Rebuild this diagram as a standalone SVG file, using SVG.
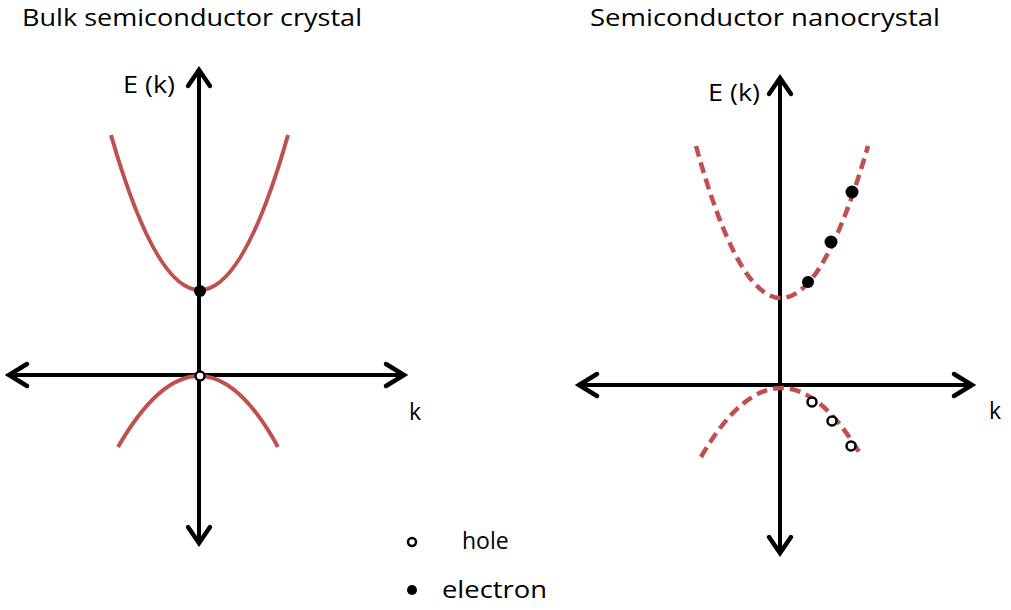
<svg xmlns="http://www.w3.org/2000/svg" width="1011" height="610" viewBox="0 0 1011 610">
<style>
.t{font-family:"Open Sans","Noto Sans",sans-serif;fill:#000}
.ax{stroke:#000;stroke-width:4;fill:none}
.ah{stroke:#000;stroke-width:4.5;fill:none;stroke-linecap:round;stroke-linejoin:miter}
.band{stroke:#c0504d;stroke-width:4;fill:none}
.dash{stroke:#c0504d;stroke-width:4.5;fill:none;stroke-dasharray:11 6}
.el{fill:#000}
.ho{fill:#fff;stroke:#000;stroke-width:2.5}
</style>
<rect width="1011" height="610" fill="#fff"/>
<g id="title-bulk"><text class="t" x="22" y="26" font-size="23" textLength="340" lengthAdjust="spacingAndGlyphs">Bulk semiconductor crystal</text></g>
<g id="title-nano"><text class="t" x="590" y="26" font-size="23" textLength="350" lengthAdjust="spacingAndGlyphs">Semiconductor nanocrystal</text></g>
<g id="connectors">
<g id="bulk-axes">
<line class="ax" x1="199" y1="72" x2="199" y2="541"/>
<polyline class="ah" points="188,86 199,70 210,86"/>
<polyline class="ah" points="188,527 199,543 210,527"/>
<line class="ax" x1="10" y1="375" x2="403" y2="375"/>
<polyline class="ah" points="27,364 9,375 27,386"/>
<polyline class="ah" points="386,364 404,375 386,386"/>
</g>
<g id="nano-axes">
<line class="ax" x1="780" y1="80" x2="780" y2="551"/>
<polyline class="ah" points="769,94 780,78 791,94"/>
<polyline class="ah" points="769,537 780,553 791,537"/>
<line class="ax" x1="580" y1="385" x2="971" y2="385"/>
<polyline class="ah" points="597,374 579,385 597,396"/>
<polyline class="ah" points="954,374 972,385 954,396"/>
</g>
</g>
<g id="bulk-bands">
<path class="band" d="M111,135 Q200,445 288,135"/>
<path class="band" d="M118,447 Q200,305 278,447"/>
</g>
<g id="nano-bands">
<path class="dash" d="M696,146 Q780,450 868,146"/>
<path class="dash" d="M701,457 Q781,319 862,457"/>
</g>
<g id="bulk-carriers">
<circle class="el" cx="200" cy="291" r="6"/>
<circle class="ho" cx="200" cy="376" r="4.5"/>
</g>
<g id="nano-carriers">
<circle class="el" cx="852" cy="192" r="6.5"/>
<circle class="el" cx="831" cy="242" r="6.5"/>
<circle class="el" cx="808" cy="282" r="6"/>
<circle class="ho" cx="812" cy="402" r="4.5"/>
<circle class="ho" cx="832" cy="421" r="4.5"/>
<circle class="ho" cx="851" cy="446" r="4.5"/>
</g>
<g id="labels">
<text class="t" x="123" y="93" font-size="23" textLength="52" lengthAdjust="spacingAndGlyphs">E (k)</text>
<text class="t" x="708" y="101" font-size="23" textLength="52" lengthAdjust="spacingAndGlyphs">E (k)</text>
<text class="t" x="409" y="420" font-size="23">k</text>
<text class="t" x="989" y="419" font-size="23">k</text>
</g>
<g id="legend">
<circle class="ho" cx="412" cy="542" r="4"/>
<text class="t" x="462" y="549" font-size="23">hole</text>
<circle class="el" cx="412" cy="590" r="5"/>
<text class="t" x="442" y="598" font-size="23" textLength="105" lengthAdjust="spacingAndGlyphs">electron</text>
</g>
</svg>
